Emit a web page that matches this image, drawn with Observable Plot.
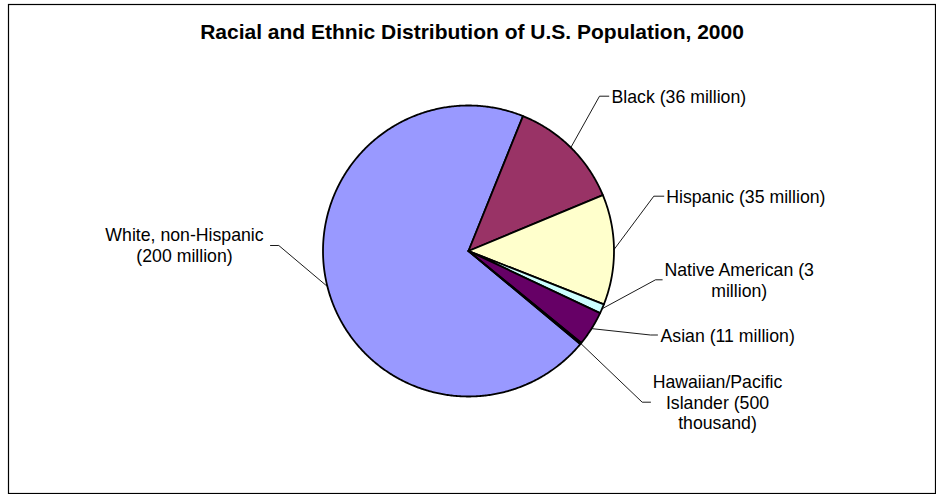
<!DOCTYPE html>
<html><head><meta charset="utf-8">
<script src="https://cdn.jsdelivr.net/npm/d3@7"></script>
<script src="https://cdn.jsdelivr.net/npm/@observablehq/plot@0.6"></script>
<style>
body{margin:0;background:#fff}
#chart svg{display:block;font-family:Arial,"Liberation Sans",sans-serif}
</style>
</head><body><div id="chart"></div>
<script>
// ---- data ----
const title = "Racial and Ethnic Distribution of U.S. Population, 2000";
const categories = ["White, non-Hispanic", "Black", "Hispanic", "Native American", "Asian", "Hawaiian/Pacific Islander"];
const populations = [200, 36, 35, 3, 11, 0.5]; // millions
const labelTexts = [
  "White, non-Hispanic\n(200 million)",
  "Black (36 million)",
  "Hispanic (35 million)",
  "Native American (3\nmillion)",
  "Asian (11 million)",
  "Hawaiian/Pacific\nIslander (500\nthousand)"
];
const sliceColors = ["#9999FF", "#993366", "#FFFFCC", "#CCFFFF", "#660066", "#FF8080"];

// ---- layout (pixels) ----
const W = 936, H = 494;
const frameBox = {left: 8, top: 4, right: 935, bottom: 493};
const cx = 468, cy = 250.5, R = 145.5;
const firstSliceAngle = 129.8; // degrees clockwise from 12 o'clock
const labelLayout = [
  {elbow: [278.3, 245], tick: 270, tx: 184, ty: 244.5, anchor: "middle"},
  {elbow: [599, 95.7], tick: 608.3, tx: 611, ty: 95.7, anchor: "start"},
  {elbow: [653.3, 195.7], tick: 663.3, tx: 665.7, ty: 195.7, anchor: "start"},
  {elbow: [655, 279.3], tick: 661.7, tx: 738.7, ty: 279.2, anchor: "middle"},
  {elbow: [650, 334.5], tick: 657, tx: 660, ty: 335, anchor: "start"},
  {elbow: [641.7, 401.7], tick: 650, tx: 717, ty: 401.5, anchor: "middle"}
];

// pixel -> data units (radius units, y up)
const dx = (px) => (px - cx) / R;
const dy = (py) => (cy - py) / R;

// ---- slices ----
const total = d3.sum(populations);
const slices = [];
let acc = firstSliceAngle;
categories.forEach((c, i) => {
  const span = populations[i] / total * 360;
  slices.push({category: c, a0: acc, a1: acc + span, mid: acc + span / 2, i});
  acc += span;
});
const toRad = (a) => a * Math.PI / 180;
const slicePts = [];
for (const s of slices) {
  const n = Math.max(2, Math.ceil((s.a1 - s.a0) / 0.5));
  slicePts.push({category: s.category, x: 0, y: 0});
  for (let k = 0; k <= n; k++) {
    const a = toRad(s.a0 + (s.a1 - s.a0) * k / n);
    slicePts.push({category: s.category, x: Math.sin(a), y: Math.cos(a)});
  }
  slicePts.push({category: s.category, x: 0, y: 0});
}

// ---- leader lines ----
const leaderPts = [];
slices.forEach((s, i) => {
  const L = labelLayout[i];
  const a = toRad(s.mid);
  leaderPts.push({k: i, x: Math.sin(a), y: Math.cos(a)});
  leaderPts.push({k: i, x: dx(L.elbow[0]), y: dy(L.elbow[1])});
  leaderPts.push({k: i, x: dx(L.tick), y: dy(L.elbow[1])});
});
const labels = labelTexts.map((t, i) => ({text: t, x: dx(labelLayout[i].tx), y: dy(labelLayout[i].ty), anchor: labelLayout[i].anchor}));

const plot = Plot.plot({
  width: W, height: H,
  marginLeft: frameBox.left, marginTop: frameBox.top,
  marginRight: W - frameBox.right, marginBottom: H - frameBox.bottom,
  x: {domain: [dx(frameBox.left), dx(frameBox.right)], axis: null},
  y: {domain: [dy(frameBox.bottom), dy(frameBox.top)], axis: null},
  color: {domain: categories, range: sliceColors},
  style: {fontFamily: 'Arial, "Liberation Sans", sans-serif', background: "#fff"},
  marks: [
    Plot.frame({stroke: "#000", strokeWidth: 1.2}),
    Plot.line(slicePts, {x: "x", y: "y", z: "category", fill: "category", stroke: "#000", strokeWidth: 1.8, strokeLinejoin: "round", curve: "linear"}),
    Plot.line(leaderPts, {x: "x", y: "y", z: "k", stroke: "#000", strokeWidth: 0.9, curve: "linear"}),
    Plot.text(labels.filter(d => d.anchor === "start"), {x: "x", y: "y", text: "text", textAnchor: "start", fontSize: 17.7, fill: "#000", lineHeight: 1.16}),
    Plot.text(labels.filter(d => d.anchor === "middle"), {x: "x", y: "y", text: "text", textAnchor: "middle", fontSize: 17.7, fill: "#000", lineHeight: 1.16}),
    Plot.text([title], {frameAnchor: "top", dy: 19.5, text: d => d, fontSize: 21, fontWeight: "bold", fill: "#000"})
  ]
});
document.getElementById("chart").appendChild(plot);
</script>
</body></html>
